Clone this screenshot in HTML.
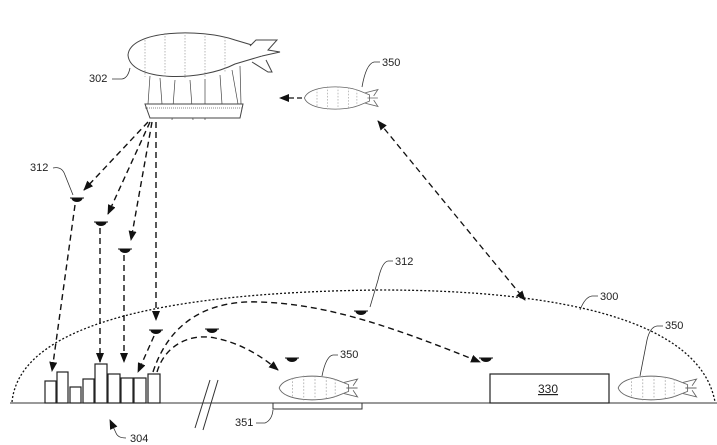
<!DOCTYPE html>
<html><head><style>html,body{margin:0;padding:0;background:#fff}svg{display:block}text{font-family:"Liberation Sans",sans-serif;font-size:11px;fill:#222}</style></head>
<body>
<svg width="717" height="445" viewBox="0 0 717 445" xmlns="http://www.w3.org/2000/svg">
<defs>
<marker id="ah" markerWidth="10" markerHeight="8" refX="9" refY="4" orient="auto" markerUnits="userSpaceOnUse"><path d="M0,0 L10,4 L0,8 z" fill="#111"/></marker>
<marker id="as" markerWidth="10" markerHeight="8" refX="1" refY="4" orient="auto" markerUnits="userSpaceOnUse"><path d="M10,0 L0,4 L10,8 z" fill="#111"/></marker>
<g id="blimp">
<path d="M-32,0 C-28,-12 5,-13 20,-7 L30,-3 L30,3 L20,7 C5,13 -28,12 -32,0 z" fill="#fff" stroke="#666" stroke-width="0.8"/>
<path d="M-20,-9 v18 M-10,-11 v22 M0,-11 v22 M10,-10 v20 M18,-8 v16" stroke="#999" stroke-width="0.6" stroke-dasharray="1.5,1.5"/>
<path d="M26,-5 L38,-8 L34,-2 M26,5 L38,8 L34,2 M28,0 H38" stroke="#666" stroke-width="0.8" fill="none"/>
</g>
<g id="drone"><path d="M-7,0 H7 M-5,0 A5,3.5 0 0 0 5,0 z" stroke="#111" stroke-width="1" fill="#111"/></g>
</defs>
<line x1="10" y1="403" x2="717" y2="403" stroke="#333" stroke-width="1"/>
<path d="M12,402 C20,320 180,292 380,290 C560,290 700,320 715,402" fill="none" stroke="#111" stroke-width="1.3" stroke-dasharray="2,2"/>
<!-- big blimp -->
<path d="M150,76 L148,104 M160,78 L162,104 M175,80 L172,120 M190,80 L193,120 M205,79 L205,120 M220,75 L222,104 M232,70 L238,104 M240,66 L241,104" stroke="#444" stroke-width="0.7"/>
<path d="M128,55 C130,30 200,28 235,40 L262,48 L262,56 L235,64 C200,82 130,82 128,55 z" fill="#fff" stroke="#444" stroke-width="1"/>
<path d="M145,40 v37 M165,33 v45 M185,32 v46 M205,33 v44 M225,37 v36" stroke="#888" stroke-width="0.6" stroke-dasharray="1.5,1.5"/>
<path d="M250,46 L256,40 H277 L268,50 L280,52 L262,56 M252,62 L268,72 L272,72 L266,60" stroke="#444" stroke-width="1" fill="#fff"/>
<path d="M145,104 H243 L240,118 H150 z" fill="#fff" stroke="#444" stroke-width="1"/>
<line x1="145" y1="108" x2="243" y2="108" stroke="#888" stroke-width="1" stroke-dasharray="1,1"/>
<text x="89" y="82">302</text>
<path d="M112,79 H122 Q128,78 130,68" fill="none" stroke="#333" stroke-width="0.8"/>
<!-- top small blimp -->
<use href="#blimp" transform="translate(338,98) scale(1.05)"/>
<text x="382" y="66">350</text>
<path d="M380,62 H374 Q366,64 362,87" fill="none" stroke="#333" stroke-width="0.8"/>
<line x1="302" y1="98" x2="280" y2="98" stroke="#111" stroke-width="1.3" stroke-dasharray="5,3" marker-end="url(#ah)"/>
<line x1="378" y1="121" x2="525" y2="300" stroke="#111" stroke-width="1.3" stroke-dasharray="6,4" marker-start="url(#as)" marker-end="url(#ah)"/>
<!-- drones -->
<use href="#drone" x="77" y="198"/><use href="#drone" x="101" y="222"/><use href="#drone" x="125" y="249"/>
<use href="#drone" x="156" y="330"/><use href="#drone" x="212" y="329"/><use href="#drone" x="292" y="358"/>
<use href="#drone" x="361" y="311"/><use href="#drone" x="486" y="358"/>
<g stroke="#111" stroke-width="1.4" stroke-dasharray="6,4" fill="none" marker-end="url(#ah)">
<line x1="148" y1="122" x2="84" y2="190"/>
<line x1="150" y1="122" x2="108" y2="214"/>
<line x1="152" y1="122" x2="131" y2="240"/>
<line x1="156" y1="122" x2="156" y2="320"/>
<line x1="75" y1="205" x2="52" y2="371"/>
<line x1="100" y1="228" x2="100" y2="362"/>
<line x1="124" y1="255" x2="124" y2="362"/>
<line x1="154" y1="336" x2="138" y2="372"/>
<path d="M153,372 C170,320 210,300 260,302 C330,304 400,330 480,362"/>
<path d="M157,372 C165,345 190,333 215,338 C240,343 260,355 278,370"/>
</g>
<!-- buildings -->
<g fill="#fff" stroke="#222" stroke-width="1.2">
<rect x="45" y="381" width="11" height="22"/><rect x="57" y="372" width="11" height="31"/><rect x="70" y="387" width="11" height="16"/>
<rect x="83" y="379" width="11" height="24"/><rect x="95" y="364" width="12" height="39"/><rect x="108" y="374" width="12" height="29"/>
<rect x="121" y="378" width="12" height="25"/><rect x="134" y="378" width="12" height="25"/><rect x="148" y="374" width="12" height="29"/>
</g>
<path d="M110,420 L116,433 Q118,438 126,438" fill="none" stroke="#333" stroke-width="0.8" marker-start="url(#as)"/>
<text x="130" y="442">304</text>
<path d="M195,428 L210,380 M203,430 L218,380" stroke="#333" stroke-width="1"/>
<!-- mid blimp -->
<use href="#blimp" transform="translate(315,388) scale(1.12)"/>
<path d="M273,403 V409 H362 V403" fill="none" stroke="#333" stroke-width="1"/>
<text x="235" y="426">351</text>
<path d="M256,423 H265 Q272,420 273,410" fill="none" stroke="#333" stroke-width="0.8"/>
<text x="340" y="358">350</text>
<path d="M338,355 H333 Q326,356 322,376" fill="none" stroke="#333" stroke-width="0.8"/>
<text x="395" y="265">312</text>
<path d="M393,261 H388 Q382,262 378,280 L370,307" fill="none" stroke="#333" stroke-width="0.8"/>
<text x="30" y="171">312</text>
<path d="M53,168 Q62,166 65,175 L73,195" fill="none" stroke="#333" stroke-width="0.8"/>
<rect x="490" y="374" width="119" height="29" fill="#fff" stroke="#222" stroke-width="1.2"/>
<text x="538" y="393" text-decoration="underline" style="font-size:12px">330</text>
<text x="600" y="300">300</text>
<path d="M598,296 H592 Q585,297 580,310" fill="none" stroke="#333" stroke-width="0.8"/>
<use href="#blimp" transform="translate(654,388) scale(1.12)"/>
<text x="665" y="329">350</text>
<path d="M663,326 H657 Q650,327 647,340 L640,376" fill="none" stroke="#333" stroke-width="0.8"/>
</svg>
</body></html>
